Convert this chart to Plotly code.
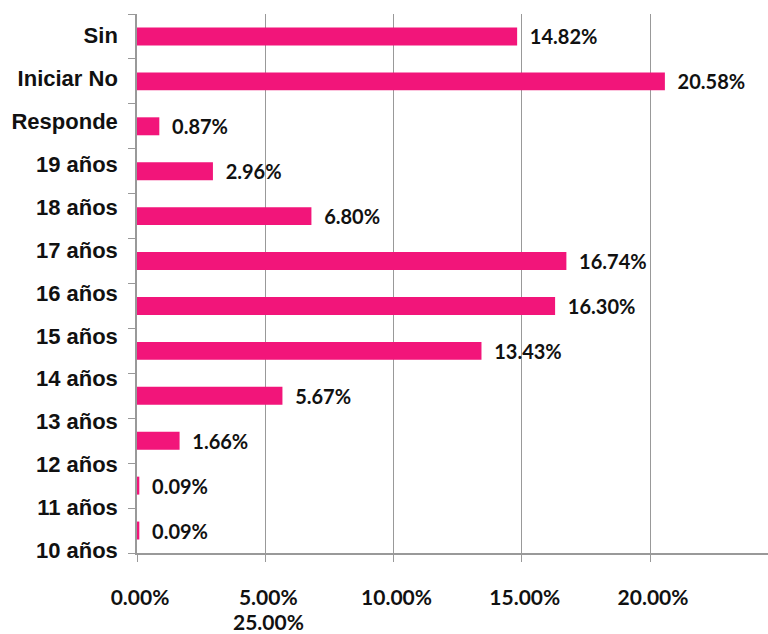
import numpy as np
import plotly.graph_objects as go

# Data (percent)
bar_keys = ["Sin Iniciar", "No Responde", "19 años", "18 años", "17 años", "16 años",
            "15 años", "14 años", "13 años", "12 años", "11 años", "10 años"]
values = [14.82, 20.58, 0.87, 2.96, 6.80, 16.74, 16.30, 13.43, 5.67, 1.66, 0.09, 0.09]
value_labels = ["14.82%", "20.58%", "0.87%", "2.96%", "6.80%", "16.74%", "16.30%",
                "13.43%", "5.67%", "1.66%", "0.09%", "0.09%"]
y_tick_labels = ["Sin", "Iniciar No", "Responde", "19 años", "18 años", "17 años", "16 años",
                 "15 años", "14 años", "13 años", "12 años", "11 años", "10 años"]
x_tick_vals = [0, 5, 10, 15, 20]
x_tick_text = ["0.00%", "5.00%", "10.00%", "15.00%", "20.00%"]
wrapped_tick_text = "25.00%"
wrapped_tick_under = 5

pos = np.arange(len(values))
n = len(values)
label_pos = np.linspace(-0.02, n - 0.56, len(y_tick_labels))
boundaries = np.arange(n + 1) - 0.5

fig = go.Figure()
fig.add_trace(go.Bar(
    x=values, y=pos, orientation="h", width=0.4,
    marker=dict(color="#F2157A", line=dict(width=0)),
    text=value_labels, texttemplate="  %{text}", textposition="outside", cliponaxis=False,
    textfont=dict(family="Lato", size=20, color="#111111", weight="bold"),
))

fig.update_layout(
    width=768, height=634,
    margin=dict(l=137, r=0, t=14, b=81),
    paper_bgcolor="white", plot_bgcolor="white",
    showlegend=False,
    uniformtext=dict(minsize=20, mode="show"),
)
fig.add_annotation(
    x=wrapped_tick_under, xref="x", y=-0.127, yref="paper",
    text=wrapped_tick_text, showarrow=False, xshift=3, yanchor="middle",
    font=dict(family="Lato", size=21, color="#111111", weight="bold"),
)
fig.update_yaxes(
    range=[n - 0.5, -0.5], automargin=False,
    tickmode="array", tickvals=label_pos, ticktext=y_tick_labels,
    ticks="", showgrid=False,
    tickfont=dict(family="Liberation Sans", size=22, color="#111111", weight="bold"),
    ticklabelstandoff=13,
    showline=True, linecolor="#999999", linewidth=1.5,
    minor=dict(tickmode="array", tickvals=boundaries, ticks="outside", ticklen=7,
               tickcolor="#999999", tickwidth=1, showgrid=False),
    zeroline=False,
)
fig.update_xaxes(
    range=[0, 24.6], automargin=False,
    tickmode="array", tickvals=x_tick_vals, ticktext=x_tick_text,
    ticks="outside", ticklen=7, tickcolor="#999999",
    showgrid=True, gridcolor="#999999", gridwidth=1.2,
    showline=True, linecolor="#999999", linewidth=1.5,
    zeroline=False,
    tickfont=dict(family="Lato", size=21, color="#111111", weight="bold"),
    ticklabelstandoff=18, ticklabelshift=3,
)

fig.write_html("out.html", config={"displayModeBar": False},
               post_script="document.body.style.margin='0';")
